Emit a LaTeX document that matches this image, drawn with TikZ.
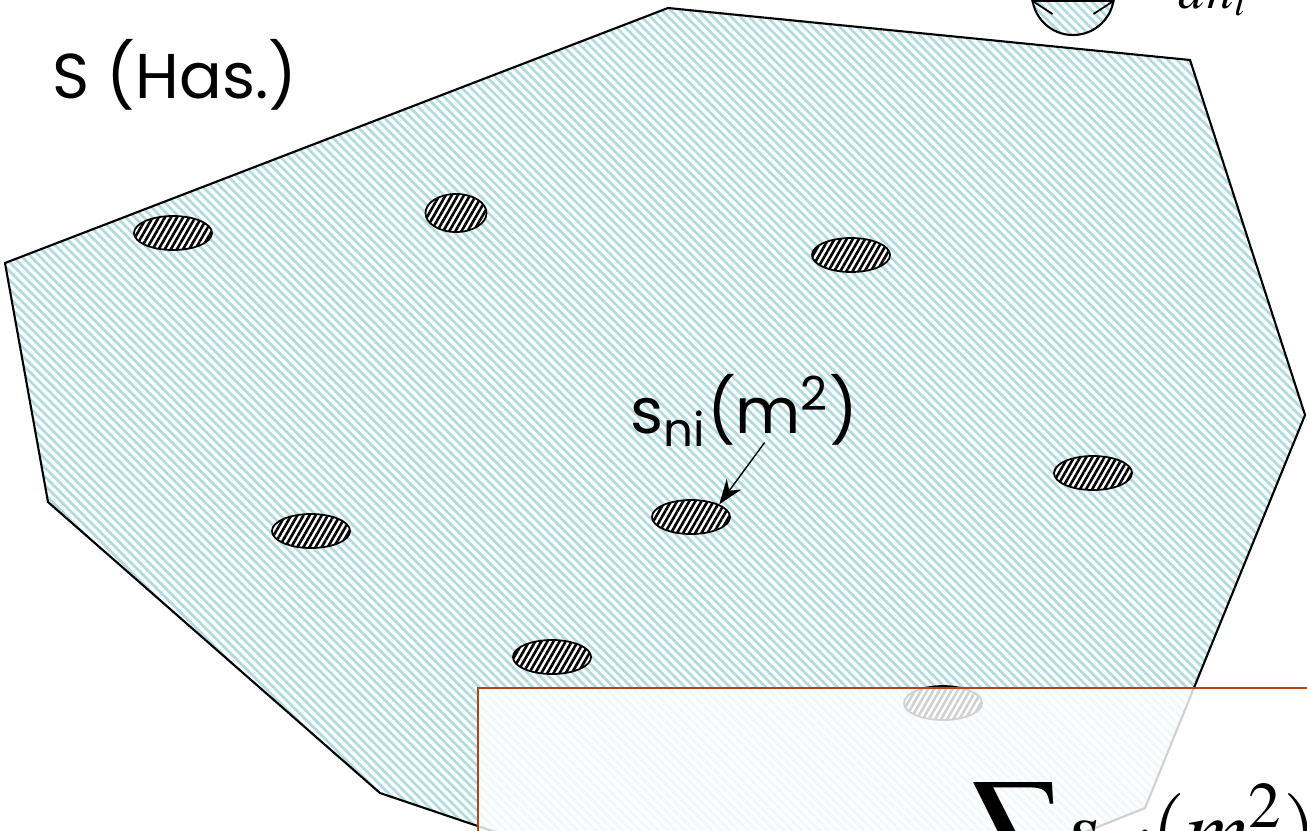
\documentclass[tikz,border=0pt]{standalone}
\usepackage{mathptmx}
\usepackage{fontspec}
\setmainfont{Poppins}
\usetikzlibrary{shapes.geometric, arrows.meta, positioning, patterns.meta}

\definecolor{plotfill}{RGB}{176,219,224}
\definecolor{boxline}{RGB}{180,68,18}

\begin{document}
\begin{tikzpicture}[
    x=0.01cm, y=-0.01cm,
    field/.style={draw, line width=0.6pt, preaction={fill=plotfill}, preaction={pattern={Lines[angle=-45, distance=1.8pt, line width=0.95pt]}, pattern color=white}},
    spot/.style={ellipse, draw, line width=0.5pt, inner sep=0pt, minimum width=0.78cm, minimum height=0.34cm, preaction={fill=white}, preaction={pattern={Lines[angle=60, distance=1.5pt, line width=0.75pt]}}},
    lbl/.style={font=\fontsize{18}{20}\selectfont, inner sep=0pt},
    arr/.style={-{Stealth[length=2.5mm, width=1.8mm]}, line width=0.4pt},
    gauge/.style={arrows={Straight Barb[length=2mm, width=2.6mm]-Straight Barb[length=2mm, width=2.6mm]}, line width=0.5pt},
    overlay box/.style={draw=boxline, line width=0.8pt, fill=white, fill opacity=0.82, draw opacity=1}
]
\useasboundingbox (0,0) rectangle (1307,830);
\clip (0,0) rectangle (1307,830);

% the plot with its nests
\draw[field] (5,263) -- (668,8) -- (1190,60) -- (1305,415) -- (1145,808) -- (815,940) -- (380,793) -- (48,502) -- cycle;

\node[spot] (n1) at (173,233) {};
\node[spot, minimum width=0.61cm, minimum height=0.38cm] (n2) at (456,213) {};
\node[spot] (n3) at (851,255) {};
\node[spot] (n4) at (1093,473) {};
\node[spot] (n5) at (691,517) {};
\node[spot] (n6) at (311,531) {};
\node[spot] (n7) at (552,657) {};
\node[spot] (n8) at (943,703) {};

% labels
\node[lbl] (plot) at (175,75) {S (Has.)};
\node[lbl, anchor=base west] (area) at (630,433) {s\textsubscript{ni}(m\textsuperscript{2})};
\draw[arr] ([xshift=0.2cm, yshift=0.05cm]area.south) -- (n5.north east);

% nest diameter
\node[field, circle, minimum size=0.82cm, inner sep=0pt] (nest) at (1073,-6) {};
\draw[gauge] ([yshift=-0.07cm]nest.west) -- ([yshift=-0.07cm]nest.east);
\node[anchor=base west, font=\fontsize{15}{17}\selectfont, inner sep=0pt] (diam) at (1178,8) {$dn_i$};

% sum box
\draw[overlay box] (478,688) rectangle (1400,950);
\node[anchor=north west, inner sep=0pt, font=\fontsize{26}{26}\selectfont] (sigma) at (970,782) {$\displaystyle\sum$};
\node[anchor=base west, inner sep=0pt, font=\fontsize{25}{27}\selectfont] (terms) at (1064,859) {$s_{ni}(m^2)$};

\end{tikzpicture}
\end{document}
